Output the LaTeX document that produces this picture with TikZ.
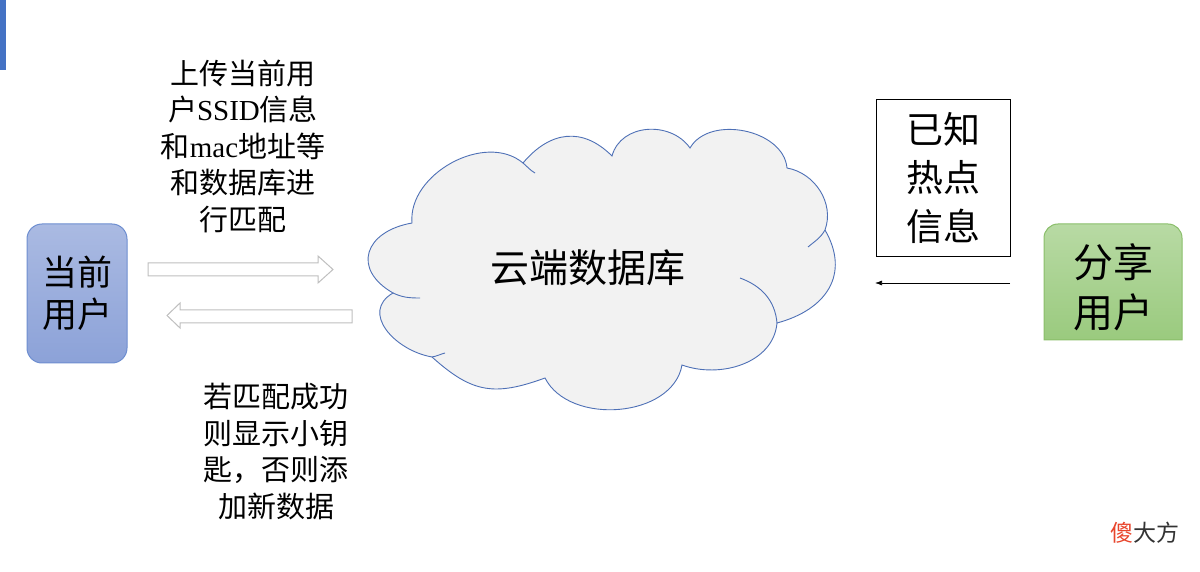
\documentclass[tikz,border=0pt]{standalone}
\usepackage{fontspec}
\setmainfont{Noto Sans CJK SC}
\newfontfamily\latinfont{Liberation Serif}
\usepackage{xcolor}
\usepackage{tikz}
\usetikzlibrary{arrows.meta,positioning}

\definecolor{barblue}{RGB}{68,114,196}
\definecolor{usertop}{RGB}{170,186,226}
\definecolor{userbot}{RGB}{140,162,216}
\definecolor{userline}{RGB}{110,142,208}
\definecolor{sharetop}{RGB}{184,218,164}
\definecolor{sharebot}{RGB}{154,202,126}
\definecolor{shareline}{RGB}{138,190,106}
\definecolor{cloudfill}{RGB}{242,242,242}
\definecolor{cloudline}{RGB}{78,112,182}
\definecolor{arrowgray}{RGB}{191,191,191}
\definecolor{markred}{RGB}{232,69,44}
\definecolor{markgray}{RGB}{51,51,51}

\begin{document}
\begin{tikzpicture}[x=1pt,y=1pt,
  note/.style={align=center,inner sep=0pt,font=\fontsize{29}{36.5}\selectfont},
  hollow/.style={draw=arrowgray,fill=white,line width=1pt},
  lobe/.style={draw=cloudline,line width=0.9pt}]
\useasboundingbox (0,0) rectangle (1200,571);
\fill[barblue] (0,501) rectangle (6,571);

% users
\node[draw=userline,line width=1pt,rounded corners=15pt,top color=usertop,bottom color=userbot,
  minimum width=100pt,minimum height=139pt,align=center,font=\fontsize{35}{42}\selectfont]
  (cur) at (77,277.5) {当前\\用户};
\shade[top color=sharetop,bottom color=sharebot,draw=shareline,line width=1pt]
  (1044,231) -- (1044,333) arc[start angle=180,end angle=90,radius=14]
  -- (1168,347) arc[start angle=90,end angle=0,radius=14] -- (1182,231) -- cycle;
\node[align=center,font=\fontsize{40}{50}\selectfont] (share) at (1113,284) {分享\\用户};

% cloud
\draw[lobe,fill=cloudfill] (393,278)
  to[out=150,in=190,looseness=1.7] (412,348)
  to[out=95,in=140] (523,408)
  to[out=50,in=135,looseness=1.2] (612,415)
  to[out=75,in=125,looseness=1.1] (690,423)
  to[out=60,in=95] (787,403)
  to[out=-10,in=70] (825,341)
  to[out=-60,in=15,looseness=1.25] (777,248)
  to[out=-95,in=-20] (682,206)
  to[out=-100,in=-63] (545,193)
  to[out=200,in=-42,looseness=1.2] (432,214)
  to[out=170,in=210,looseness=1.3] (393,278) -- cycle;
\draw[lobe] (393,278) to[out=-25,in=180] (420,273);
\draw[lobe] (523,408) to[out=-40,in=150] (535,398);
\draw[lobe] (825,341) to[out=-120,in=40] (808,324);
\draw[lobe] (740,293) to[out=-20,in=95] (777,248);
\draw[lobe] (432,214) to[out=10,in=195] (445,218);
\node[font=\fontsize{39}{46}\selectfont] (db) at (588,303) {云端数据库};

% hollow arrows
\draw[hollow] (148,295) -- (148,308) -- (318,308) -- (318,315) -- (333,301.5)
  -- (318,288) -- (318,295) -- cycle;
\draw[hollow] (352,248) -- (352,261) -- (180,261) -- (180,268) -- (167,255.5)
  -- (180,243) -- (180,248) -- cycle;
\node[note] (upload) at (243,425) {上传当前用\\户{\latinfont SSID}信息\\和{\latinfont mac}地址等\\和数据库进\\行匹配};
\node[note] (reply) at (276,119.5) {若匹配成功\\则显示小钥\\匙，否则添\\加新数据};

% hotspot info
\node[draw,line width=0.8pt,minimum width=134pt,minimum height=157pt,align=center,
  font=\fontsize{37}{48.5}\selectfont] (known) at (943,393.5) {已知\\热点\\信息};
\coordinate (from) at (1010,288);
\coordinate (to) at (875,288);
\draw[-{Latex[length=7pt,width=5pt]},line width=0.7pt] (from) -- (to);

\node[font=\fontsize{23}{28}\selectfont] (mark) at (1145,38) {\textcolor{markred}{傻}\textcolor{markgray}{大方}};
\end{tikzpicture}
\end{document}
